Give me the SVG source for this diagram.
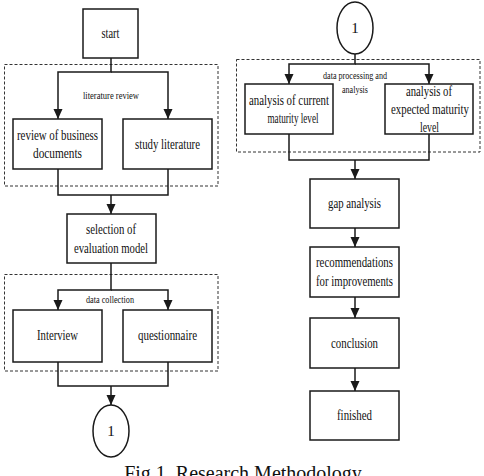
<svg xmlns="http://www.w3.org/2000/svg" width="484" height="476" viewBox="0 0 484 476">
<style>
.box{fill:#fff;stroke:#1a1a1a;stroke-width:1.5}
.grp{fill:none;stroke:#333;stroke-width:1;stroke-dasharray:3,2}
.con{fill:none;stroke:#1a1a1a;stroke-width:1.5}
.t{font-family:"Liberation Serif","Times New Roman",serif;font-size:15px;fill:#111;text-anchor:middle}
.s{font-family:"Liberation Serif","Times New Roman",serif;font-size:10px;fill:#111;text-anchor:middle}
.cap{font-family:"Liberation Serif","Times New Roman",serif;font-size:20px;fill:#111;text-anchor:middle}
</style>
<defs>
<marker id="arr" markerUnits="userSpaceOnUse" markerWidth="10" markerHeight="10" refX="10" refY="4.5" orient="auto" viewBox="0 0 10 9">
<path d="M0,0 L10,4.5 L0,9 z" fill="#1a1a1a"/>
</marker>
</defs>
<rect x="255" y="0" width="0" height="0" fill="none"/>
<rect width="484" height="476" fill="#fff"/>

<g id="groups">
<rect class="grp" x="4.5" y="64.5" width="213.5" height="121.5"/>
<text class="s" x="111" y="99" textLength="56" lengthAdjust="spacingAndGlyphs">literature review</text>
<rect class="grp" x="4.5" y="274.5" width="213.5" height="96.5"/>
<text class="s" x="110" y="303" textLength="48" lengthAdjust="spacingAndGlyphs">data collection</text>
<rect class="grp" x="236.5" y="59.5" width="243.5" height="92.5"/>
<text class="s" x="355" y="79" textLength="64" lengthAdjust="spacingAndGlyphs">data processing and</text>
<text class="s" x="355" y="93" textLength="26" lengthAdjust="spacingAndGlyphs">analysis</text>
</g>

<g id="connectors">
<path class="con" d="M111,58 V72 H58 V119" marker-end="url(#arr)"/>
<path class="con" d="M111,72 H168 V119" marker-end="url(#arr)"/>
<path class="con" d="M58,169 V195 H168 V169"/>
<path class="con" d="M111,195 V214" marker-end="url(#arr)"/>
<path class="con" d="M111,263 V290 H58 V310" marker-end="url(#arr)"/>
<path class="con" d="M111,290 H168 V310" marker-end="url(#arr)"/>
<path class="con" d="M58,362 V386 H168 V362"/>
<path class="con" d="M111,386 V405" marker-end="url(#arr)"/>
<path class="con" d="M355,54 V64 H289 V84" marker-end="url(#arr)"/>
<path class="con" d="M355,64 H429 V84" marker-end="url(#arr)"/>
<path class="con" d="M289,134 V160 H429 V134"/>
<path class="con" d="M355,160 V179" marker-end="url(#arr)"/>
<path class="con" d="M355,228 V247" marker-end="url(#arr)"/>
<path class="con" d="M355,297 V318" marker-end="url(#arr)"/>
<path class="con" d="M355,368 V391" marker-end="url(#arr)"/>
</g>

<g id="start">
<rect class="box" x="83" y="9" width="55" height="49"/>
<text class="t" x="110.5" y="38" textLength="18" lengthAdjust="spacingAndGlyphs">start</text>
</g>
<g id="review-docs">
<rect class="box" x="13" y="119" width="89" height="50"/>
<text class="t" x="57.5" y="140" textLength="81" lengthAdjust="spacingAndGlyphs">review of business</text>
<text class="t" x="57.5" y="158" textLength="49" lengthAdjust="spacingAndGlyphs">documents</text>
</g>
<g id="study-literature">
<rect class="box" x="123" y="119" width="89" height="50"/>
<text class="t" x="167.5" y="149" textLength="65" lengthAdjust="spacingAndGlyphs">study literature</text>
</g>
<g id="selection">
<rect class="box" x="67" y="214" width="89" height="49"/>
<text class="t" x="111" y="234" textLength="50" lengthAdjust="spacingAndGlyphs">selection of</text>
<text class="t" x="111" y="253" textLength="74" lengthAdjust="spacingAndGlyphs">evaluation model</text>
</g>
<g id="interview">
<rect class="box" x="13" y="310" width="89" height="52"/>
<text class="t" x="57.5" y="340" textLength="41" lengthAdjust="spacingAndGlyphs">Interview</text>
</g>
<g id="questionnaire">
<rect class="box" x="123" y="310" width="89" height="52"/>
<text class="t" x="167.5" y="340" textLength="59" lengthAdjust="spacingAndGlyphs">questionnaire</text>
</g>
<g id="connector-out">
<ellipse class="box" cx="111" cy="431" rx="18" ry="26"/>
<text class="t" x="111" y="436">1</text>
</g>
<g id="connector-in">
<ellipse class="box" cx="355" cy="28" rx="18" ry="26"/>
<text class="t" x="355" y="33">1</text>
</g>
<g id="current-level">
<rect class="box" x="245" y="84" width="88" height="50"/>
<text class="t" x="289" y="105" textLength="80" lengthAdjust="spacingAndGlyphs">analysis of current</text>
<text class="t" x="293" y="123" textLength="51" lengthAdjust="spacingAndGlyphs">maturity level</text>
</g>
<g id="expected-level">
<rect class="box" x="385" y="84" width="88" height="50"/>
<text class="t" x="429" y="96" textLength="46" lengthAdjust="spacingAndGlyphs">analysis of</text>
<text class="t" x="430" y="114" textLength="78" lengthAdjust="spacingAndGlyphs">expected maturity</text>
<text class="t" x="429.5" y="132" textLength="19" lengthAdjust="spacingAndGlyphs">level</text>
</g>
<g id="gap-analysis">
<rect class="box" x="310" y="179" width="89" height="49"/>
<text class="t" x="354.5" y="208" textLength="53" lengthAdjust="spacingAndGlyphs">gap analysis</text>
</g>
<g id="recommendations">
<rect class="box" x="310" y="247" width="89" height="50"/>
<text class="t" x="354.5" y="267" textLength="77" lengthAdjust="spacingAndGlyphs">recommendations</text>
<text class="t" x="354.5" y="286" textLength="77" lengthAdjust="spacingAndGlyphs">for improvements</text>
</g>
<g id="conclusion">
<rect class="box" x="310" y="318" width="89" height="50"/>
<text class="t" x="354.5" y="348" textLength="47" lengthAdjust="spacingAndGlyphs">conclusion</text>
</g>
<g id="finished">
<rect class="box" x="310" y="391" width="89" height="49"/>
<text class="t" x="354.5" y="420" textLength="35" lengthAdjust="spacingAndGlyphs">finished</text>
</g>
<text class="cap" x="243" y="480">Fig 1. Research Methodology</text>
</svg>
